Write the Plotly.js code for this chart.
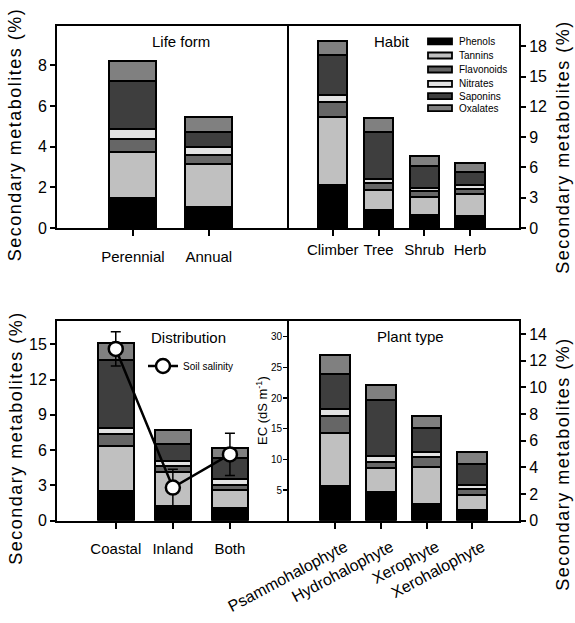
<!DOCTYPE html>
<html>
<head>
<meta charset="utf-8">
<script src="https://cdn.plot.ly/plotly-3.0.1.min.js"></script>
<style>
  html, body { margin: 0; padding: 0; background: #ffffff; }
  #chart { width: 575px; height: 623px; }
</style>
</head>
<body>
<div id="chart"></div>
<script>
// ---------- DATA ----------
const metabolites = ['Phenols', 'Tannins', 'Flavonoids', 'Nitrates', 'Saponins', 'Oxalates'];
const metaboliteColors = ['#000000', '#c0c0c0', '#666666', '#e2e2e2', '#3e3e3e', '#808080'];

// Life form (rows = metabolites in order above)
const lifeForms = ['Perennial', 'Annual'];
const lifeValues = [
  [1.49, 1.02],
  [2.26, 2.13],
  [0.61, 0.44],
  [0.49, 0.41],
  [2.38, 0.70],
  [1.00, 0.74]
];

// Habit
const habits = ['Climber', 'Tree', 'Shrub', 'Herb'];
const habitValues = [
  [4.22, 1.82, 1.32, 1.16],
  [6.77, 1.91, 1.75, 2.17],
  [1.49, 0.73, 0.59, 0.56],
  [0.72, 0.36, 0.33, 0.33],
  [3.90, 4.68, 2.15, 1.32],
  [1.38, 1.39, 0.96, 0.93]
];

// Distribution
const distributions = ['Coastal', 'Inland', 'Both'];
const distValues = [
  [2.52, 1.25, 1.05],
  [3.85, 2.91, 1.55],
  [0.99, 0.51, 0.43],
  [0.48, 0.40, 0.48],
  [5.80, 1.44, 1.78],
  [1.47, 1.19, 0.85]
];
const soilSalinityEC = [28.0, 5.4, 10.8];
const soilSalinityErr = [2.8, 3.0, 3.45];

// Plant type
const plantTypes = ['Psammohalophyte', 'Hydrohalophyte', 'Xerophyte', 'Xerohalophyte'];
const plantValues = [
  [2.61, 2.18, 1.24, 0.80],
  [3.95, 1.76, 2.77, 1.13],
  [1.28, 0.49, 0.75, 0.43],
  [0.53, 0.45, 0.38, 0.32],
  [2.65, 4.19, 1.85, 1.58],
  [1.43, 1.13, 0.88, 0.92]
];

// ---------- BUILD ----------
const FONT = 'Liberation Sans, Arial, sans-serif';
const W = 575, H = 623;
const px = v => v / W;
const py = v => 1 - v / H;

const traces = [];
function addStack(cats, values, xa, ya, barWidth) {
  values.forEach((vals, i) => {
    traces.push({
      type: 'bar',
      x: cats,
      y: vals,
      xaxis: xa,
      yaxis: ya,
      name: metabolites[i],
      width: barWidth,
      marker: { color: metaboliteColors[i], line: { color: '#000000', width: 2 } },
      showlegend: false,
      hoverinfo: 'skip'
    });
  });
}
addStack(lifeForms, lifeValues, 'x', 'y', 0.62);
addStack(habits, habitValues, 'x2', 'y2', 0.64);
addStack(distributions, distValues, 'x3', 'y3', 0.64);
addStack(plantTypes, plantValues, 'x4', 'y4', 0.65);

traces.push({
  type: 'scatter',
  mode: 'lines+markers',
  x: distributions,
  y: soilSalinityEC,
  xaxis: 'x3',
  yaxis: 'y5',
  name: 'Soil salinity',
  line: { color: '#000000', width: 2.5 },
  marker: { symbol: 'circle', size: 14, color: '#ffffff', line: { color: '#000000', width: 2.5 } },
  error_y: { type: 'data', array: soilSalinityErr, visible: true, color: '#000000', thickness: 1.5, width: 5 },
  legend: 'legend2',
  showlegend: true,
  hoverinfo: 'skip'
});

const xL = [px(57), px(287)], xR = [px(287), px(519)];
const yT = [py(228), py(26)], yB = [py(520.7), py(320.7)];

const tickFont = { family: FONT, size: 15, color: '#000' };
const yTickFont = { family: FONT, size: 16, color: '#000' };
const baseX = {
  type: 'category', showline: true, mirror: true, linecolor: '#000', linewidth: 2,
  ticks: 'outside', ticklen: 6, tickwidth: 2, tickcolor: '#000',
  showgrid: false, zeroline: false, tickfont: tickFont, fixedrange: true
};
const baseY = {
  showline: true, linecolor: '#000', linewidth: 2,
  ticks: 'outside', ticklen: 5, tickwidth: 2, tickcolor: '#000',
  showgrid: false, zeroline: false, tickfont: yTickFont, fixedrange: true
};

const annotations = [];
const shapes = [];
function title(text, x, y, size) {
  annotations.push({ xref: 'paper', yref: 'paper', x: px(x), y: py(y), text: text, showarrow: false,
    xanchor: 'center', yanchor: 'middle', font: { family: FONT, size: size, color: '#000' } });
}
function vtitle(text, x, y, size) {
  annotations.push({ xref: 'paper', yref: 'paper', x: px(x), y: py(y), text: text, showarrow: false,
    textangle: -90, xanchor: 'center', yanchor: 'middle', font: { family: FONT, size: size, color: '#000' } });
}
// axis titles (indices 0..3 get letter spacing)
vtitle('Secondary metabolites (%)', 14, 134.5, 18);
vtitle('Secondary metabolites (%)', 16, 438, 18);
vtitle('Secondary metabolites (%)', 563, 147, 18);
vtitle('Secondary metabolites (%)', 563, 464, 18);
// panel titles
title('Life form', 181, 42, 15);
title('Habit', 392, 42, 15);
title('Distribution', 188, 337, 15);
title('Plant type', 410, 336, 15);
vtitle('EC (dS m<sup>-1</sup>)', 262, 411, 13);

// custom metabolite legend in Habit panel
const legendRows = [41.3, 55.5, 69.5, 83.8, 96.2, 108.2];
metabolites.forEach((m, i) => {
  const c = legendRows[i];
  shapes.push({ type: 'rect', xref: 'paper', yref: 'paper',
    x0: px(428), x1: px(452), y0: py(c + 3), y1: py(c - 3),
    fillcolor: metaboliteColors[i], line: { color: '#000', width: 1.8 } });
  annotations.push({ xref: 'paper', yref: 'paper', x: px(457), y: py(c), text: m, showarrow: false,
    xanchor: 'left', yanchor: 'middle', font: { family: FONT, size: 10, color: '#000' } });
});

const layout = {
  width: W, height: H,
  margin: { l: 0, r: 0, t: 0, b: 0, pad: 0 },
  paper_bgcolor: '#ffffff', plot_bgcolor: '#ffffff',
  barmode: 'stack',
  font: { family: FONT, color: '#000' },
  showlegend: true,
  legend2: {
    x: px(143), y: py(366), xanchor: 'left', yanchor: 'middle',
    bgcolor: 'rgba(0,0,0,0)', borderwidth: 0,
    font: { family: FONT, size: 10, color: '#000' }
  },
  xaxis: Object.assign({}, baseX, { domain: xL, anchor: 'y', range: [-1.0, 2.03], ticklabelstandoff: 8 }),
  yaxis: Object.assign({}, baseY, { domain: yT, anchor: 'x', range: [0, 9.93], dtick: 2, tick0: 0, mirror: true }),
  xaxis2: Object.assign({}, baseX, { domain: xR, anchor: 'y2', range: [-1.0, 4.07], ticklabelstandoff: 1 }),
  yaxis2: Object.assign({}, baseY, { domain: yT, anchor: 'x2', side: 'right', range: [0, 20], dtick: 3, tick0: 0, mirror: false }),
  xaxis3: Object.assign({}, baseX, { domain: xL, anchor: 'y3', range: [-1.03, 3.0], ticklabelstandoff: 7 }),
  yaxis3: Object.assign({}, baseY, { domain: yB, anchor: 'x3', range: [0, 17], dtick: 3, tick0: 0, mirror: true }),
  yaxis5: {
    overlaying: 'y3', anchor: 'x3', side: 'right', range: [0, 32.6], dtick: 5, tick0: 0,
    showline: false, showgrid: false, zeroline: false,
    ticks: 'inside', ticklen: 4, tickwidth: 1.5, tickcolor: '#000',
    ticklabelposition: 'inside', tickfont: { family: FONT, size: 10, color: '#000' }, fixedrange: true
  },
  xaxis4: Object.assign({}, baseX, { domain: xR, anchor: 'y4', range: [-1.05, 4.02], tickangle: -28,
    ticklabelstandoff: 3, ticklabelshift: 10,
    tickfont: { family: FONT, size: 16, color: '#000' } }),
  yaxis4: Object.assign({}, baseY, { domain: yB, anchor: 'x4', side: 'right', range: [0, 15], dtick: 2, tick0: 0, mirror: false }),
  annotations: annotations,
  shapes: shapes
};

Plotly.newPlot('chart', traces, layout, { staticPlot: true, displayModeBar: false }).then(() => {
  document.querySelectorAll('g.annotation').forEach(g => {
    const idx = +g.getAttribute('data-index');
    if (idx <= 3) {
      g.querySelectorAll('text').forEach(t => { t.style.letterSpacing = '1.5px'; });
    }
  });
});
</script>
</body>
</html>
